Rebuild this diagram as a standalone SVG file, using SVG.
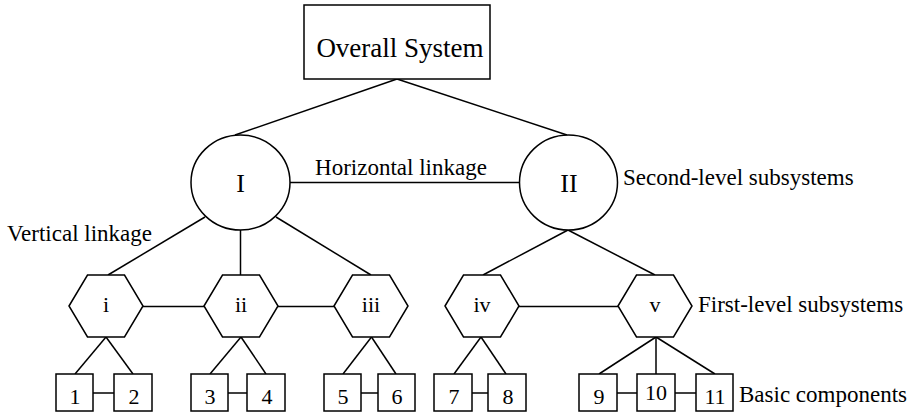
<svg xmlns="http://www.w3.org/2000/svg" width="912" height="413" viewBox="0 0 912 413">
<style>
.s{fill:#fff;stroke:#000;stroke-width:1.5}
.c line{stroke:#000;stroke-width:1.5}
text{font-family:"Liberation Serif","Times New Roman",serif;fill:#000}
.lab{font-size:23px}
.hx{font-size:22px;text-anchor:middle}
.bx{font-size:22px;text-anchor:middle}
.big{font-size:26px;text-anchor:middle}
</style>
<rect width="912" height="413" fill="#fff"/>
<g class="c" id="connectors">
<line x1="397" y1="79" x2="235" y2="135"/>
<line x1="397" y1="79" x2="567" y2="135"/>
<line x1="290" y1="182.5" x2="519.5" y2="182.5"/>
<line x1="205" y1="217" x2="108" y2="275"/>
<line x1="240.5" y1="230" x2="240.5" y2="275"/>
<line x1="276" y1="217" x2="371" y2="275"/>
<line x1="568" y1="230" x2="483" y2="275"/>
<line x1="568" y1="230" x2="655" y2="275"/>
<line x1="143" y1="306.5" x2="204" y2="306.5"/>
<line x1="278" y1="306.5" x2="334" y2="306.5"/>
<line x1="519" y1="306.5" x2="618" y2="306.5"/>
<line x1="106" y1="337" x2="75" y2="374"/>
<line x1="106" y1="337" x2="133" y2="374"/>
<line x1="241" y1="337" x2="210" y2="374"/>
<line x1="241" y1="337" x2="266" y2="374"/>
<line x1="371.5" y1="337" x2="343" y2="374"/>
<line x1="371.5" y1="337" x2="396" y2="374"/>
<line x1="481" y1="337" x2="454" y2="374"/>
<line x1="481" y1="337" x2="506" y2="374"/>
<line x1="656" y1="337" x2="599" y2="374"/>
<line x1="656" y1="337" x2="656" y2="374"/>
<line x1="656" y1="337" x2="715" y2="374"/>
<line x1="93" y1="393" x2="114" y2="393"/>
<line x1="228" y1="393" x2="247" y2="393"/>
<line x1="361" y1="393" x2="378" y2="393"/>
<line x1="472" y1="393" x2="488" y2="393"/>
<line x1="617" y1="393" x2="637" y2="393"/>
<line x1="675" y1="393" x2="696" y2="393"/>
</g>
<g id="overall"><rect class="s" x="304" y="5" width="186" height="74"/><text x="400" y="57" font-size="27" text-anchor="middle">Overall System</text></g>
<g id="I"><ellipse class="s" cx="240.5" cy="182.5" rx="49.5" ry="47.5"/><text class="big" x="240.5" y="192">I</text></g>
<g id="II"><ellipse class="s" cx="568.5" cy="182.5" rx="49" ry="47.5"/><text class="big" x="569" y="192">II</text></g>
<g id="hi"><polygon class="s" points="69,306 87.5,275 124.5,275 143,306 124.5,337 87.5,337"/><text class="hx" x="106" y="312">i</text></g>
<g id="hii"><polygon class="s" points="204,306 222.5,275 259.5,275 278,306 259.5,337 222.5,337"/><text class="hx" x="241" y="312">ii</text></g>
<g id="hiii"><polygon class="s" points="334,306 352.5,275 389.5,275 408,306 389.5,337 352.5,337"/><text class="hx" x="371" y="312">iii</text></g>
<g id="hiv"><polygon class="s" points="445,306 463.5,275 500.5,275 519,306 500.5,337 463.5,337"/><text class="hx" x="482" y="312">iv</text></g>
<g id="hv"><polygon class="s" points="618,306 636.5,275 673.5,275 692,306 673.5,337 636.5,337"/><text class="hx" x="655" y="312">v</text></g>
<g id="b1"><rect class="s" x="56" y="374" width="37" height="37"/><text class="bx" x="75" y="404">1</text></g>
<g id="b2"><rect class="s" x="114" y="374" width="38" height="37"/><text class="bx" x="134" y="404">2</text></g>
<g id="b3"><rect class="s" x="191" y="374" width="37" height="37"/><text class="bx" x="210" y="404">3</text></g>
<g id="b4"><rect class="s" x="247" y="374" width="38" height="37"/><text class="bx" x="267" y="404">4</text></g>
<g id="b5"><rect class="s" x="324" y="374" width="37" height="37"/><text class="bx" x="343" y="404">5</text></g>
<g id="b6"><rect class="s" x="378" y="374" width="37" height="37"/><text class="bx" x="397" y="404">6</text></g>
<g id="b7"><rect class="s" x="434" y="374" width="38" height="37"/><text class="bx" x="454" y="404">7</text></g>
<g id="b8"><rect class="s" x="488" y="374" width="38" height="37"/><text class="bx" x="508" y="404">8</text></g>
<g id="b9"><rect class="s" x="579" y="374" width="38" height="37"/><text class="bx" x="599" y="404">9</text></g>
<g id="b10"><rect class="s" x="637" y="374" width="38" height="37"/><text class="bx" x="656" y="400">10</text></g>
<g id="b11"><rect class="s" x="696" y="374" width="37" height="37"/><text class="bx" x="715" y="404">11</text></g>
<g id="labels">
<text class="lab" x="401" y="175" text-anchor="middle">Horizontal linkage</text>
<text class="lab" x="623" y="185">Second-level subsystems</text>
<text class="lab" x="7" y="241">Vertical linkage</text>
<text class="lab" x="698" y="312">First-level subsystems</text>
<text class="lab" x="739" y="402">Basic components</text>
</g>
</svg>
